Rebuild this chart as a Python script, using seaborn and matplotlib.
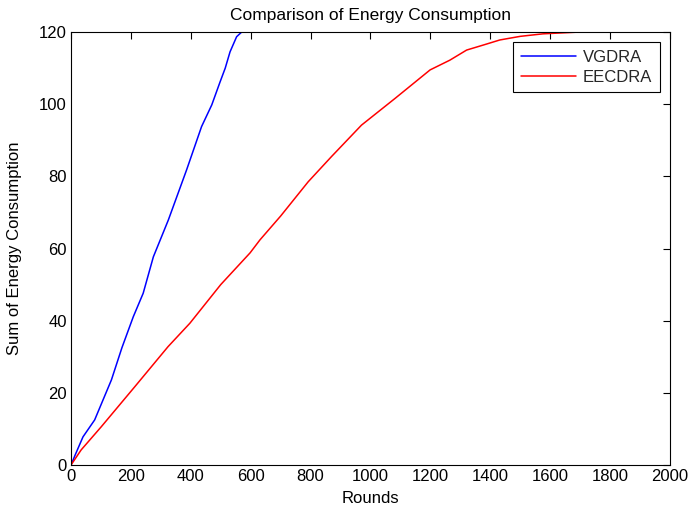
import matplotlib
matplotlib.use("Agg")
import matplotlib.pyplot as plt
import seaborn as sns
import pandas as pd

vgdra_rounds = [0, 15, 40, 79, 135, 170, 208, 241, 275, 325, 386, 436, 470, 497, 515, 531, 553, 570, 1665]
vgdra_values = [0, 3, 7.8, 12.5, 23.6, 32.5, 41.1, 47.6, 57.7, 67.9, 81.8, 93.8, 99.8, 106, 110, 114.5, 118.7, 120, 120]

eecdra_rounds = [0, 34, 101, 213, 324, 397, 500, 598, 631, 700, 792, 870, 970, 1082, 1199, 1265, 1321, 1377, 1432, 1500, 1576, 1650, 1700, 2000]
eecdra_values = [0, 4.2, 10.6, 21.7, 32.8, 39.3, 50, 58.8, 62.4, 69, 78.5, 85.5, 94.2, 101.6, 109.5, 112.2, 115, 116.4, 117.8, 118.8, 119.5, 119.8, 120, 120]

x_ticks = [0, 200, 400, 600, 800, 1000, 1200, 1400, 1600, 1800, 2000]
y_ticks = [0, 20, 40, 60, 80, 100, 120]

df = pd.concat([
    pd.DataFrame({"Rounds": vgdra_rounds, "Energy": vgdra_values, "Protocol": "VGDRA"}),
    pd.DataFrame({"Rounds": eecdra_rounds, "Energy": eecdra_values, "Protocol": "EECDRA"}),
], ignore_index=True)

sns.set_theme(style="white")
plt.rcParams['font.family'] = ['Liberation Sans', 'DejaVu Sans']

fig = plt.figure(figsize=(6.88, 5.14), dpi=100)
ax = fig.add_axes([0.1032, 0.0953, 0.8706, 0.8424])

sns.lineplot(data=df, x="Rounds", y="Energy", hue="Protocol",
             palette={"VGDRA": "#0000ff", "EECDRA": "#ff0000"},
             estimator=None, sort=False, linewidth=1.1, ax=ax)

ax.set_xlim(0, 2000)
ax.set_ylim(0, 120)
ax.set_xticks(x_ticks)
ax.set_yticks(y_ticks)
ax.tick_params(direction="in", top=True, right=True, length=5, width=0.8,
               labelsize=12, colors="black", pad=3)
for s in ax.spines.values():
    s.set_visible(True)
    s.set_color("black")
    s.set_linewidth(0.8)

ax.set_xlabel("Rounds", fontsize=12, color="black", labelpad=5)
ax.set_ylabel("Sum of Energy Consumption", fontsize=12, color="black", labelpad=12)
ax.set_title("Comparison of Energy Consumption", fontsize=12.5, color="black", pad=9)

leg = ax.legend(loc="upper right", fontsize=12, frameon=True, fancybox=False,
                edgecolor="black", framealpha=1, borderaxespad=0.6,
                handlelength=3.3, borderpad=0.45, labelspacing=0.3,
                handletextpad=0.45)
leg.get_frame().set_linewidth(0.8)

fig.savefig("out.png", dpi=100, facecolor="white")
